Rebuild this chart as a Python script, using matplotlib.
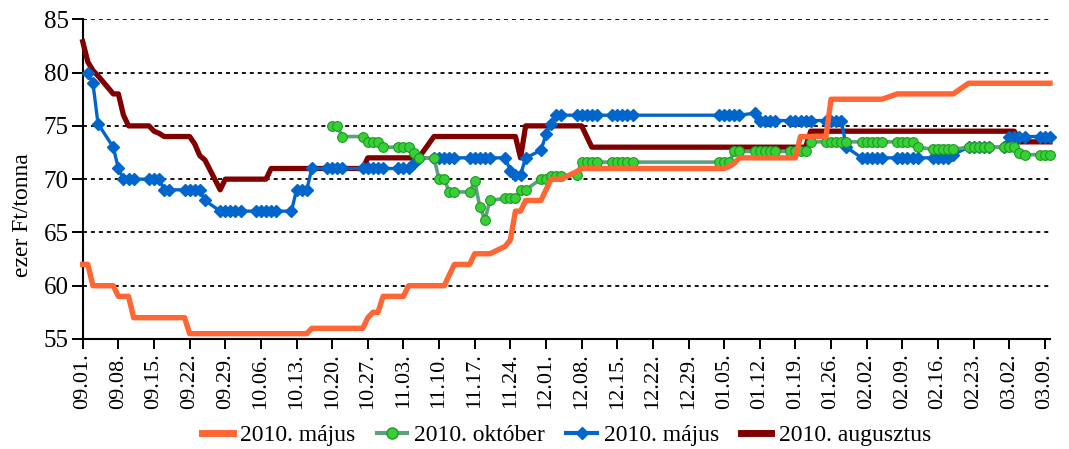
import matplotlib
matplotlib.use('Agg')
import matplotlib.pyplot as plt
import matplotlib.dates as mdates
from matplotlib.lines import Line2D
import pandas as pd

N = None
# business days 2010-08-31 .. 2011-03-09 (137 days), one row per week
DATES = pd.bdate_range('2010-08-31', '2011-03-09')

ORANGE = [62, 62, 60, 60,
          60, 59, 59, 59, 57,
          57, 57, 57, 57, 57,
          57, 55.5, 55.5, 55.5, 55.5,
          55.5, 55.5, 55.5, 55.5, 55.5,
          55.5, 55.5, 55.5, 55.5, 55.5,
          55.5, 55.5, 55.5, 55.5, 56,
          56, 56, 56, 56, N,
          56, 57, 57.5, 57.5, 59,
          59, 59, 60, 60, 60,
          60, 60, 60, 61, 62,
          62, 63, 63, 63, 63,
          63.7, 64.3, 67, 67, 68,
          68, 69, 70, 70, 70,
          70.7, 71, 71, 71, 71,
          71, 71, 71, 71, 71,
          N, N, N, N, N,
          N, N, N, N, N,
          71, 71, 71.2, 71.5, 72,
          72, 72, 72, 72, 72,
          72, 72, 74, 74, 74,
          74, 77.5, 77.5, 77.5, 77.5,
          77.5, 77.5, 77.5, 77.5, 77.5,
          78, 78, 78, 78, 78,
          78, 78, 78, 78, 78,
          79, 79, 79, 79, 79,
          79, 79, 79, 79, 79,
          79, 79, 79]

GREEN = [N, N, N, N,
         N, N, N, N, N,
         N, N, N, N, N,
         N, N, N, N, N,
         N, N, N, N, N,
         N, N, N, N, N,
         N, N, N, N, N,
         N, 75, 75, 74, N,
         74, 73.5, 73.5, 73.5, 73,
         73, 73, 73, 72.5, 72,
         72, 70, 70, 68.8, 68.8,
         68.8, 69.8, 67.4, 66.2, 68,
         68.2, 68.2, 68.2, 69, 69,
         70, 70, 70.3, 70.3, 70.3,
         70.4, 71.6, 71.6, 71.6, 71.6,
         71.6, 71.6, 71.6, 71.6, 71.6,
         N, N, N, N, N,
         N, N, N, N, N,
         71.6, 71.6, 71.6, 72.6, 72.6,
         72.6, 72.6, 72.6, 72.6, 72.6,
         72.6, 72.6, 72.6, 72.6, 73.5,
         73.5, 73.5, 73.5, 73.5, 73.5,
         73.5, 73.5, 73.5, 73.5, 73.5,
         73.5, 73.5, 73.5, 73.5, 73,
         72.8, 72.8, 72.8, 72.8, 72.8,
         73, 73, 73, 73, 73,
         73, 73, 73, 72.5, 72.3,
         72.3, 72.3, 72.3]

BLUE = [N, 80, 79, 75.2,
        73, 71, 70, 70, 70,
        70, 70, 70, 69, 69,
        69, 69, 69, 69, 68,
        67, 67, 67, 67, 67,
        67, 67, 67, 67, 67,
        67, 69, 69, 69, 71,
        71, 71, 71, 71, N,
        71, 71, 71, 71, 71,
        71, 71, 71, 71.5, 72,
        72, 72, 72, 72, 72,
        72, 72, 72, 72, 72,
        72, 70.8, 70.4, 70.4, 72,
        72.7, 74.2, 75.2, 76, 76,
        76, 76, 76, 76, 76,
        76, 76, 76, 76, 76,
        N, N, N, N, N,
        N, N, N, N, N,
        76, 76, 76, 76, 76,
        76.2, 75.5, 75.5, 75.5, 75.5,
        75.5, 75.5, 75.5, 75.5, 75.5,
        75.5, 75.5, 75.5, 75.5, 73,
        72, 72, 72, 72, 72,
        72, 72, 72, 72, 72,
        72, 72, 72, 72, 72.3,
        73, 73, 73, 73, 73,
        73, 74, 74, 74, 74,
        74, 74, 74]

RED = [82.9, 81, 80.2, 79.7,
       78, 78, 76, 75, 75,
       75, 74.5, 74.3, 74, 74,
       74, 74, 73.3, 72.2, 71.8,
       69, 70, 70, 70, 70,
       70, 70, 70, 71, 71,
       71, 71, 71, 71, 71,
       71, 71, 71, 71, N,
       71, 72, 72, 72, 72,
       72, 72, 72, 72, 72,
       74, 74, 74, 74, 74,
       74, 74, 74, 74, 74,
       74, 74, 74, 72, 75,
       75, 75, 75, 75, 75,
       75, 75, 74, 73, 73,
       73, 73, 73, 73, 73,
       N, N, N, N, N,
       N, N, N, N, N,
       73, 73, 73, 73, 73,
       73, 73, 73, 73, 73,
       73, 73, 73, 73, 74.5,
       74.5, 74.5, 74.5, 74.5, 74.5,
       74.5, 74.5, 74.5, 74.5, 74.5,
       74.5, 74.5, 74.5, 74.5, 74.5,
       74.5, 74.5, 74.5, 74.5, 74.5,
       74.5, 74.5, 74.5, 74.5, 74.5,
       74.5, 74.5, 74.5, 73.5, 73.5,
       73.5, 73.5, 73.5]

LABELS = ['2010. május', '2010. október', '2010. május', '2010. augusztus']
YTICKS = [55, 60, 65, 70, 75, 80, 85]
TICK_DATES = pd.date_range('2010-09-01', '2011-03-09', freq='7D')
YLABEL = 'ezer Ft/tonna'

plt.rcParams['font.family'] = ['Liberation Serif', 'DejaVu Serif']

fig = plt.figure(figsize=(10.69, 4.49), dpi=100)
ax = fig.add_axes([0.0774, 0.245, 0.9048, 0.712])

# Excel date axis: each day's point sits one day-band right of its tick
shift = pd.Timedelta(days=1)


def series(vals):
    s = pd.Series(vals, index=DATES, dtype=float).dropna()
    return s.index + shift, s.values


x, y = series(RED)
ax.plot(x, y, color='#800000', lw=3.8, solid_joinstyle='round', zorder=3, clip_on=False)
x, y = series(BLUE)
ax.plot(x, y, color='#0066CC', lw=2.4, marker='D', ms=6.4, mfc='#0066CC', mec='#0066CC',
        zorder=4, clip_on=False)
x, y = series(GREEN)
ax.plot(x, y, color='#5F9F7F', lw=2.6, marker='o', ms=7, mfc='#38D038', mec='#1E9A1E',
        mew=0.8, zorder=5, clip_on=False)
x, y = series(ORANGE)
ax.plot(x, y, color='#FF6633', lw=3.9, solid_joinstyle='round', zorder=6, clip_on=False)

ax.set_ylim(55, 85)
ax.set_xlim(pd.Timestamp('2010-09-01'), pd.Timestamp('2011-03-10'))
ax.set_yticks(YTICKS)
ax.set_xticks(TICK_DATES)
ax.xaxis.set_major_formatter(mdates.DateFormatter('%m.%d.'))
ax.grid(axis='y', color='black', linestyle=(0, (2.2, 2.2)), linewidth=1.3, zorder=1)
ax.set_axisbelow(True)
for s in ('top', 'right'):
    ax.spines[s].set_visible(False)
for s in ('left', 'bottom'):
    ax.spines[s].set_linewidth(1.5)
    ax.spines[s].set_color('black')
ax.tick_params(axis='y', direction='out', length=8, width=1.4, labelsize=18, pad=2)
ax.tick_params(axis='x', direction='out', length=7, width=1.4, labelsize=16, pad=3,
               labelrotation=90)

fig.text(0.021, 0.52, YLABEL, rotation=90, va='center', ha='center', fontsize=17)

handles = [
    Line2D([], [], color='#FF6633', lw=5),
    Line2D([], [], color='#5F9F7F', lw=3, marker='o', ms=8, mfc='#38D038', mec='#1E9A1E'),
    Line2D([], [], color='#0066CC', lw=3, marker='D', ms=6.5, mfc='#0066CC', mec='#0066CC'),
    Line2D([], [], color='#800000', lw=5),
]
fig.legend(handles, LABELS, loc='center', bbox_to_anchor=(0.53, 0.03), ncol=4,
           frameon=False, fontsize=17, handlelength=1.3, columnspacing=0.9,
           handletextpad=0.3, borderpad=0.1)

fig.savefig('out.png', dpi=100)
